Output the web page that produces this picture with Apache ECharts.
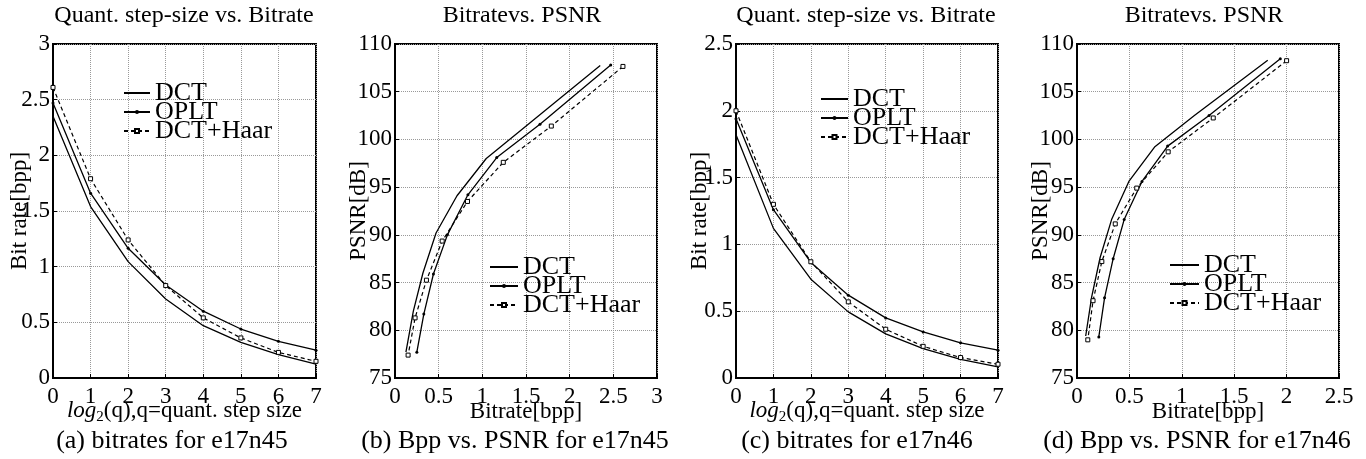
<!DOCTYPE html>
<html>
<head>
<meta charset="utf-8">
<script src="https://cdn.jsdelivr.net/npm/echarts@6/dist/echarts.min.js"></script>
<style>
html,body{margin:0;padding:0;background:#fff;}
#c{width:1366px;height:459px;}
</style>
</head>
<body>
<div id="c"></div>
<script>
// ---------- data ----------
const steps = [0, 1, 2, 3, 4, 5, 6, 7];
const seriesNames = ['DCT', 'OPLT', 'DCT+Haar'];

// e17n45
const rateDCT45  = [2.35, 1.54, 1.045, 0.71, 0.47, 0.32, 0.21, 0.125];
const rateOPLT45 = [2.47, 1.66, 1.165, 0.835, 0.60, 0.44, 0.33, 0.25];
const rateHaar45 = [2.61, 1.79, 1.24, 0.83, 0.54, 0.36, 0.23, 0.15];
const psnrDCT45  = [107.75, 101.7, 98.0, 94.1, 90.2, 86.0, 82.0, 77.7];
const psnrOPLT45 = [107.8, 101.6, 98.1, 94.2, 90.0, 85.9, 81.7, 77.7];
const psnrHaar45 = [107.65, 101.4, 97.6, 93.5, 89.35, 85.25, 81.3, 77.4];

// e17n46
const rateDCT46  = [1.82, 1.12, 0.74, 0.495, 0.33, 0.22, 0.14, 0.083];
const rateOPLT46 = [1.94, 1.26, 0.865, 0.62, 0.45, 0.345, 0.263, 0.208];
const rateHaar46 = [2.0, 1.30, 0.87, 0.57, 0.365, 0.237, 0.153, 0.103];
const psnrDCT46  = [108.3, 102.5, 99.2, 95.6, 91.6, 87.6, 83.5, 79.4];
const psnrOPLT46 = [108.45, 102.5, 99.3, 95.6, 91.6, 87.5, 83.4, 79.3];
const psnrHaar46 = [108.25, 102.25, 98.7, 94.9, 91.15, 87.2, 83.1, 79.0];

// tick settings
const xTicksRate = {min: 0, max: 7, interval: 1};
const yTicksRate45 = {min: 0, max: 3, interval: 0.5};
const yTicksRate46 = {min: 0, max: 2.5, interval: 0.5};
const xTicksBpp45 = {min: 0, max: 3, interval: 0.5};
const xTicksBpp46 = {min: 0, max: 2.5, interval: 0.5};
const yTicksPsnr = {min: 75, max: 110, interval: 5};

const titles = ['Quant. step-size vs. Bitrate', 'Bitratevs. PSNR', 'Quant. step-size vs. Bitrate', 'Bitratevs. PSNR'];
const captions = ['(a) bitrates for e17n45', '(b) Bpp vs. PSNR for e17n45', '(c) bitrates for e17n46', '(d) Bpp vs. PSNR for e17n46'];
const xNames = ['{i|log}{s|2}(q),q=quant. step size', 'Bitrate[bpp]', '{i|log}{s|2}(q),q=quant. step size', 'Bitrate[bpp]'];
const yNames = ['Bit rate[bpp]', 'PSNR[dB]', 'Bit rate[bpp]', 'PSNR[dB]'];

// ---------- layout ----------
const FONT = "'Liberation Serif','Times New Roman',serif";
const grids = [
  {left: 53, top: 44, width: 263, height: 334},
  {left: 395, top: 44, width: 262, height: 334},
  {left: 736, top: 44, width: 262, height: 334},
  {left: 1077, top: 44, width: 262, height: 334}
];
const titleX = [184, 522, 866, 1204];
const captionX = [172, 515, 857, 1197];
const yNameGap = [22, 25, 25, 25];
const xNameGap = [18, 22, 18, 22];
const legendPos = [
  {left: 123, top: 80, w: 26},
  {left: 489, top: 254, w: 28},
  {left: 820, top: 86, w: 27},
  {left: 1169, top: 252, w: 29}
];

const pair = (xs, ys) => xs.map((x, i) => [x, ys[i]]);

function mkX(i, t) {
  return {
    type: 'value', gridIndex: i, min: t.min, max: t.max, interval: t.interval,
    name: xNames[i], nameLocation: 'middle', nameGap: xNameGap[i], nameMoveOverlap: false,
    nameTextStyle: {
      fontFamily: FONT, fontSize: 23, color: '#000',
      rich: {
        i: {fontFamily: FONT, fontSize: 23, fontStyle: 'italic', color: '#000'},
        s: {fontFamily: FONT, fontSize: 15, color: '#000', padding: [14, 0, 0, 0]}
      }
    },
    axisLine: {show: true, onZero: false, lineStyle: {color: '#000', width: 2}},
    axisTick: {show: true, inside: true, length: 4, lineStyle: {color: '#000'}},
    axisLabel: {fontFamily: FONT, fontSize: 23, color: '#000', margin: 7},
    splitLine: {show: true, lineStyle: {color: '#999', type: 'dotted', width: 1}}
  };
}
function mkY(i, t) {
  return {
    type: 'value', gridIndex: i, min: t.min, max: t.max, interval: t.interval,
    name: yNames[i], nameLocation: 'middle', nameGap: yNameGap[i], nameMoveOverlap: false,
    nameTextStyle: {fontFamily: FONT, fontSize: 23, color: '#000'},
    axisLine: {show: true, onZero: false, lineStyle: {color: '#000', width: 2}},
    axisTick: {show: true, inside: true, length: 4, lineStyle: {color: '#000'}},
    axisLabel: {fontFamily: FONT, fontSize: 23, color: '#000', margin: 3},
    splitLine: {show: true, lineStyle: {color: '#999', type: 'dotted', width: 1}}
  };
}

function sDCT(i, data) {
  return {name: 'DCT', type: 'line', xAxisIndex: i, yAxisIndex: i, data,
    symbol: 'none', lineStyle: {color: '#000', width: 1.3}, itemStyle: {color: 'rgba(0,0,0,0)'}};
}
function sOPLT(i, data) {
  return {name: 'OPLT', type: 'line', xAxisIndex: i, yAxisIndex: i, data,
    symbol: 'circle', symbolSize: 3, showSymbol: true,
    lineStyle: {color: '#000', width: 1.3}, itemStyle: {color: '#000'}};
}
function sHaar(i, data) {
  return {name: 'DCT+Haar', type: 'line', xAxisIndex: i, yAxisIndex: i, data,
    symbol: 'rect', symbolSize: 4, showSymbol: true,
    lineStyle: {color: '#000', width: 1.2, type: [4, 3]},
    itemStyle: {color: '#fff', borderColor: '#000', borderWidth: 1}};
}

const series = [
  sDCT(0, pair(steps, rateDCT45)), sOPLT(0, pair(steps, rateOPLT45)), sHaar(0, pair(steps, rateHaar45)),
  sDCT(1, pair(rateDCT45, psnrDCT45)), sOPLT(1, pair(rateOPLT45, psnrOPLT45)), sHaar(1, pair(rateHaar45, psnrHaar45)),
  sDCT(2, pair(steps, rateDCT46)), sOPLT(2, pair(steps, rateOPLT46)), sHaar(2, pair(steps, rateHaar46)),
  sDCT(3, pair(rateDCT46, psnrDCT46)), sOPLT(3, pair(rateOPLT46, psnrOPLT46)), sHaar(3, pair(rateHaar46, psnrHaar46))
];

const legends = legendPos.map(p => ({
  data: seriesNames, orient: 'vertical', left: p.left, top: p.top, padding: 0,
  itemWidth: p.w, itemHeight: 5, itemGap: -7, selectedMode: false,
  textStyle: {fontFamily: FONT, fontSize: 26, color: '#000'}
}));

const graphics = [];
titles.forEach((t, i) => graphics.push({
  type: 'text', x: titleX[i], y: 15.5, silent: true,
  style: {text: t, fontFamily: FONT, fontSize: 24, fill: '#000', align: 'center', verticalAlign: 'middle', textAlign: 'center', textVerticalAlign: 'middle'}
}));
captions.forEach((t, i) => graphics.push({
  type: 'text', x: captionX[i], y: 441, silent: true,
  style: {text: t, fontFamily: FONT, fontSize: 26, fill: '#000', align: 'center', verticalAlign: 'middle', textAlign: 'center', textVerticalAlign: 'middle'}
}));

const chart = echarts.init(document.getElementById('c'), null, {renderer: 'canvas'});
chart.setOption({
  animation: false,
  backgroundColor: '#fff',
  grid: grids.map(g => Object.assign({show: true, borderColor: '#000', borderWidth: 2, backgroundColor: 'transparent'}, g)),
  xAxis: [mkX(0, xTicksRate), mkX(1, xTicksBpp45), mkX(2, xTicksRate), mkX(3, xTicksBpp46)],
  yAxis: [mkY(0, yTicksRate45), mkY(1, yTicksPsnr), mkY(2, yTicksRate46), mkY(3, yTicksPsnr)],
  legend: legends,
  graphic: graphics,
  series
});
</script>
</body>
</html>
